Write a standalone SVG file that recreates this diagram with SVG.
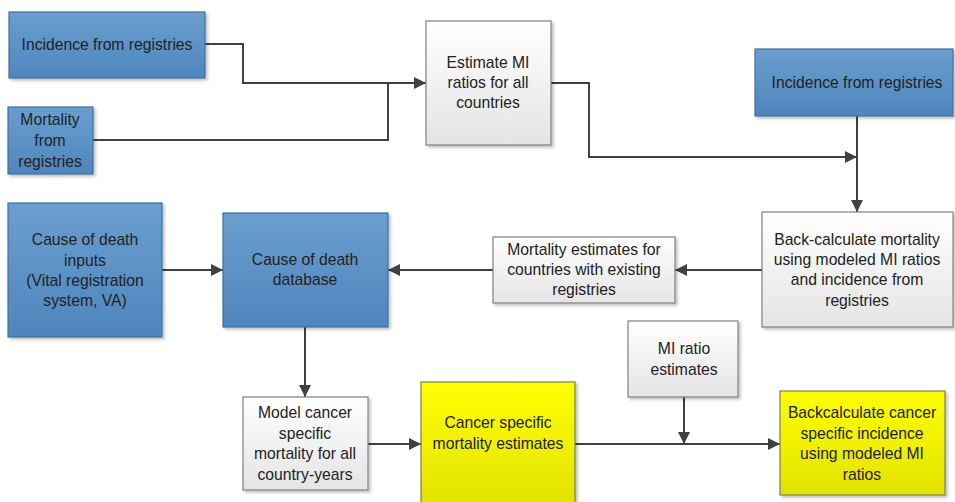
<svg xmlns="http://www.w3.org/2000/svg" width="955" height="502" viewBox="0 0 955 502">
<style>
text{font-family:"Liberation Sans",Arial,sans-serif;font-size:15.7px;fill:#222;text-anchor:middle}
.blue{fill:url(#gb);stroke:#41719c;stroke-width:1.2;filter:url(#sh)}
.gray{fill:url(#gg);stroke:#808080;stroke-width:1.2;filter:url(#sh)}
.yel{fill:url(#gy);stroke:#7f7f50;stroke-width:1.2;filter:url(#sh)}
.c{fill:none;stroke:#404040;stroke-width:2}
.a{marker-end:url(#ar)}
</style>
<defs>
<linearGradient id="gb" x1="0" y1="0" x2="0" y2="1"><stop offset="0" stop-color="#6a9ece"/><stop offset="1" stop-color="#4e86bd"/></linearGradient>
<linearGradient id="gg" x1="0" y1="0" x2="0" y2="1"><stop offset="0" stop-color="#ffffff"/><stop offset="1" stop-color="#e4e4e4"/></linearGradient>
<linearGradient id="gy" x1="0" y1="0" x2="0" y2="1"><stop offset="0" stop-color="#ffff00"/><stop offset="1" stop-color="#e2e200"/></linearGradient>
<filter id="sh" x="-10%" y="-10%" width="130%" height="130%"><feDropShadow dx="2" dy="2" stdDeviation="1.5" flood-color="#000" flood-opacity="0.25"/></filter>
<marker id="ar" viewBox="0 0 12 12" refX="12" refY="6" markerWidth="12" markerHeight="12" markerUnits="userSpaceOnUse" orient="auto"><path d="M0,0 L12,6 L0,12 z" fill="#404040"/></marker>
</defs>
<g id="connectors">
<path class="c a" d="M205,44 H243 V83 H426"/>
<path class="c" d="M93,140 H388 V83"/>
<path class="c a" d="M551,83 H589 V157 H857"/>
<path class="c a" d="M857,116 V212"/>
<path class="c a" d="M762,270 H675"/>
<path class="c a" d="M493,270 H388"/>
<path class="c a" d="M162,270 H223"/>
<path class="c a" d="M305,327 V397"/>
<path class="c a" d="M368,444 H421"/>
<path class="c a" d="M575,444 H780"/>
<path class="c a" d="M684,397 V444"/>
</g>
<g id="n1"><rect class="blue" x="9" y="12" width="196" height="66"/><text x="107" y="50">Incidence from registries</text></g>
<g id="n2"><rect class="blue" x="8" y="107" width="85" height="67"/><text x="50" y="125">Mortality</text><text x="50" y="146">from</text><text x="50" y="167">registries</text></g>
<g id="n3"><rect class="gray" x="426" y="21" width="125" height="124"/><text x="488" y="68">Estimate MI</text><text x="488" y="88">ratios for all</text><text x="488" y="108">countries</text></g>
<g id="n4"><rect class="blue" x="755" y="49" width="198" height="67"/><text x="857" y="88">Incidence from registries</text></g>
<g id="n5"><rect class="gray" x="762" y="212" width="191" height="115"/><text x="857" y="245">Back-calculate mortality</text><text x="857" y="265">using modeled MI ratios</text><text x="857" y="285">and incidence from</text><text x="857" y="306">registries</text></g>
<g id="n6"><rect class="gray" x="493" y="237" width="182" height="66"/><text x="584" y="255">Mortality estimates for</text><text x="584" y="275">countries with existing</text><text x="584" y="295">registries</text></g>
<g id="n7"><rect class="blue" x="8" y="203" width="154" height="134"/><text x="85" y="245">Cause of death</text><text x="85" y="266">inputs</text><text x="85" y="286">(Vital registration</text><text x="85" y="306">system, VA)</text></g>
<g id="n8"><rect class="blue" x="223" y="213" width="165" height="114"/><text x="305" y="265">Cause of death</text><text x="305" y="285">database</text></g>
<g id="n9"><rect class="gray" x="243" y="397" width="125" height="93"/><text x="305" y="418">Model cancer</text><text x="305" y="439">specific</text><text x="305" y="459">mortality for all</text><text x="305" y="480">country-years</text></g>
<g id="n10"><rect class="yel" x="421" y="382" width="154" height="124"/><text x="498" y="428">Cancer specific</text><text x="498" y="449">mortality estimates</text></g>
<g id="n11"><rect class="gray" x="628" y="321" width="110" height="76"/><text x="684" y="354">MI ratio</text><text x="684" y="375">estimates</text></g>
<g id="n12"><rect class="yel" x="780" y="391" width="165" height="104"/><text x="862" y="418">Backcalculate cancer</text><text x="862" y="439">specific incidence</text><text x="862" y="459">using modeled MI</text><text x="862" y="480">ratios</text></g>
</svg>
